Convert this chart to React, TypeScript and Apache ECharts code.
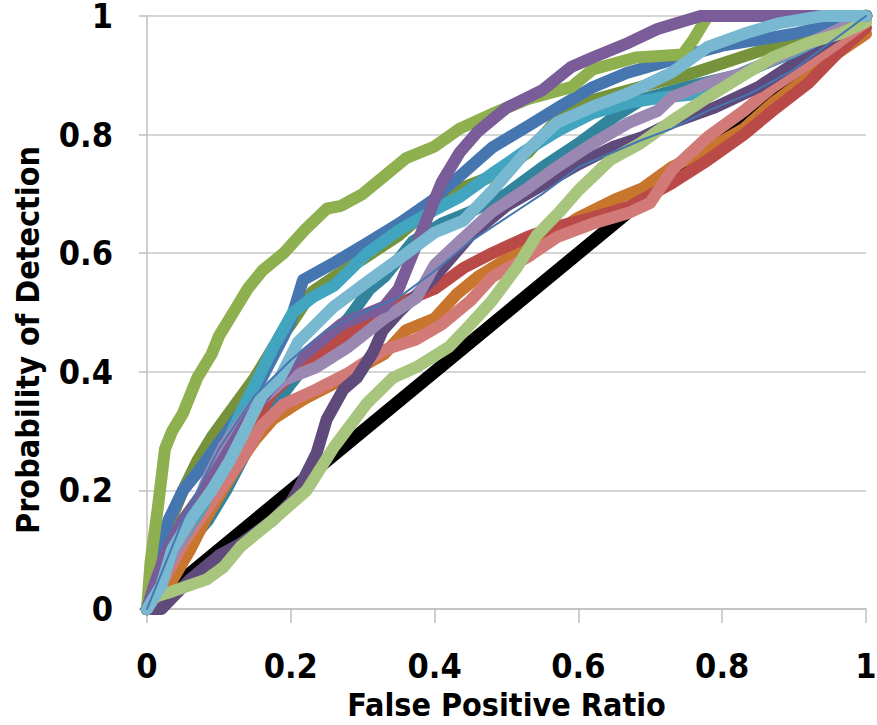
import React, { useEffect, useRef } from "react";
import * as echarts from "echarts";

// Tick labels
const xTicks = ["0", "0.2", "0.4", "0.6", "0.8", "1"];
const yTicks = ["0", "0.2", "0.4", "0.6", "0.8", "1"];

// ROC curves: [false positive ratio, probability of detection]
const chance = [[0, 0], [1, 1]];
const darkTeal = [[0,0],[0.02,0.04],[0.05,0.1],[0.085,0.15],[0.11,0.2],[0.14,0.27],[0.17,0.33],[0.2,0.38],[0.24,0.44],[0.28,0.49],[0.31,0.54],[0.33,0.56],[0.37,0.62],[0.41,0.65],[0.45,0.67],[0.5,0.7],[0.55,0.745],[0.6,0.785],[0.65,0.83],[0.69,0.86],[0.75,0.88],[0.82,0.9],[0.9,0.94],[1,1]];
const orange = [[0,0],[0.02,0.03],[0.036,0.05],[0.06,0.1],[0.083,0.155],[0.105,0.2],[0.13,0.25],[0.15,0.285],[0.175,0.32],[0.2,0.34],[0.22,0.355],[0.26,0.38],[0.3,0.41],[0.33,0.43],[0.36,0.47],[0.4,0.49],[0.43,0.53],[0.46,0.56],[0.5,0.59],[0.55,0.62],[0.6,0.66],[0.65,0.69],[0.69,0.71],[0.73,0.745],[0.78,0.775],[0.83,0.81],[0.87,0.853],[0.92,0.897],[0.96,0.937],[1,0.97]];
const red = [[0,0],[0.02,0.05],[0.05,0.12],[0.1,0.22],[0.14,0.3],[0.175,0.365],[0.21,0.405],[0.26,0.445],[0.31,0.49],[0.35,0.515],[0.4,0.54],[0.44,0.575],[0.48,0.6],[0.53,0.628],[0.57,0.645],[0.62,0.66],[0.67,0.678],[0.73,0.718],[0.78,0.757],[0.83,0.8],[0.87,0.84],[0.92,0.887],[0.96,0.937],[1,0.98]];
const pink = [[0,0],[0.02,0.04],[0.05,0.11],[0.09,0.18],[0.13,0.25],[0.16,0.31],[0.19,0.345],[0.235,0.37],[0.28,0.398],[0.33,0.437],[0.375,0.455],[0.41,0.48],[0.45,0.52],[0.48,0.56],[0.53,0.594],[0.57,0.627],[0.62,0.65],[0.67,0.668],[0.7,0.685],[0.73,0.74],[0.78,0.796],[0.83,0.84],[0.87,0.88],[0.92,0.92],[0.96,0.954],[1,0.99]];
const darkPurple = [[0,0],[0.02,0],[0.036,0.02],[0.06,0.05],[0.1,0.09],[0.13,0.11],[0.175,0.15],[0.2,0.18],[0.21,0.2],[0.236,0.263],[0.25,0.32],[0.273,0.37],[0.292,0.39],[0.314,0.432],[0.328,0.47],[0.35,0.5],[0.4,0.56],[0.45,0.63],[0.5,0.68],[0.55,0.715],[0.6,0.75],[0.65,0.78],[0.69,0.796],[0.73,0.82],[0.79,0.846],[0.85,0.88],[0.9,0.92],[0.95,0.96],[1,1]];
const olive = [[0,0],[0.01,0.06],[0.03,0.14],[0.05,0.2],[0.07,0.25],[0.09,0.29],[0.12,0.34],[0.15,0.39],[0.175,0.44],[0.2,0.48],[0.23,0.535],[0.26,0.56],[0.3,0.59],[0.35,0.63],[0.417,0.7],[0.48,0.73],[0.53,0.77],[0.574,0.83],[0.625,0.86],[0.7,0.885],[0.75,0.9],[0.85,0.94],[1,1]];
const blue = [[0,0],[0.01,0.07],[0.03,0.15],[0.05,0.2],[0.07,0.23],[0.1,0.28],[0.13,0.33],[0.16,0.39],[0.19,0.46],[0.2,0.487],[0.217,0.555],[0.259,0.583],[0.306,0.617],[0.352,0.651],[0.398,0.69],[0.435,0.73],[0.481,0.779],[0.528,0.813],[0.574,0.847],[0.62,0.88],[0.667,0.904],[0.713,0.92],[0.755,0.935],[0.8,0.95],[0.9,0.97],[1,1]];
const teal = [[0,0],[0.02,0.06],[0.05,0.12],[0.08,0.18],[0.1,0.25],[0.13,0.33],[0.155,0.39],[0.175,0.44],[0.203,0.5],[0.231,0.526],[0.26,0.545],[0.306,0.6],[0.352,0.64],[0.4,0.673],[0.435,0.695],[0.481,0.735],[0.528,0.774],[0.574,0.808],[0.62,0.836],[0.667,0.853],[0.713,0.862],[0.78,0.87],[0.84,0.91],[0.9,0.94],[1,1]];
const lilac = [[0,0],[0.01,0.03],[0.028,0.07],[0.06,0.145],[0.083,0.217],[0.106,0.273],[0.143,0.335],[0.19,0.386],[0.236,0.408],[0.28,0.442],[0.33,0.49],[0.375,0.525],[0.4,0.58],[0.435,0.62],[0.48,0.67],[0.53,0.71],[0.57,0.745],[0.62,0.785],[0.67,0.82],[0.71,0.84],[0.73,0.863],[0.78,0.887],[0.83,0.904],[0.87,0.926],[0.92,0.954],[0.96,0.976],[1,1]];
const lightGreen = [[0,0],[0.01,0.02],[0.036,0.03],[0.083,0.05],[0.106,0.07],[0.13,0.105],[0.175,0.15],[0.222,0.2],[0.26,0.273],[0.306,0.347],[0.342,0.39],[0.375,0.408],[0.42,0.442],[0.45,0.48],[0.48,0.52],[0.515,0.577],[0.542,0.63],[0.574,0.67],[0.6,0.706],[0.644,0.757],[0.686,0.785],[0.732,0.825],[0.78,0.863],[0.825,0.897],[0.87,0.93],[0.92,0.955],[0.964,0.97],[1,0.99]];
const green = [[0,0],[0.005,0.08],[0.015,0.17],[0.025,0.27],[0.035,0.3],[0.05,0.33],[0.07,0.39],[0.09,0.43],[0.1,0.46],[0.12,0.5],[0.14,0.54],[0.16,0.57],[0.19,0.6],[0.22,0.64],[0.25,0.675],[0.27,0.68],[0.3,0.7],[0.33,0.73],[0.36,0.76],[0.4,0.78],[0.435,0.81],[0.48,0.835],[0.53,0.86],[0.59,0.88],[0.62,0.91],[0.68,0.93],[0.745,0.935],[0.76,0.96],[0.78,1],[1,1]];
const purple = [[0,0],[0.01,0.04],[0.025,0.09],[0.05,0.15],[0.08,0.2],[0.11,0.26],[0.14,0.32],[0.17,0.37],[0.2,0.41],[0.23,0.44],[0.27,0.48],[0.31,0.5],[0.33,0.51],[0.35,0.54],[0.37,0.6],[0.39,0.66],[0.41,0.72],[0.435,0.77],[0.46,0.805],[0.5,0.845],[0.55,0.875],[0.59,0.914],[0.62,0.93],[0.67,0.955],[0.71,0.978],[0.77,1],[1,1]];
const lightBlue = [[0,0],[0.01,0.02],[0.02,0.04],[0.035,0.1],[0.06,0.15],[0.09,0.2],[0.115,0.25],[0.14,0.31],[0.16,0.36],[0.185,0.39],[0.21,0.45],[0.26,0.51],[0.31,0.555],[0.35,0.59],[0.4,0.635],[0.44,0.655],[0.48,0.705],[0.53,0.775],[0.57,0.82],[0.62,0.847],[0.67,0.87],[0.73,0.905],[0.78,0.948],[0.83,0.97],[0.88,0.988],[0.94,1],[1,1]];
const thinBlue = [[0,0],[0.05,0.15],[0.1,0.27],[0.15,0.36],[0.2,0.42],[0.25,0.47],[0.3,0.5],[0.35,0.525],[0.4,0.57],[0.45,0.62],[0.5,0.66],[0.55,0.7],[0.6,0.745],[0.686,0.79],[0.73,0.81],[0.78,0.84],[0.84,0.87],[0.9,0.91],[1,1]];

const FONT = "'DejaVu Sans Condensed', 'DejaVu Sans', sans-serif";

export default function App() {
  const ref = useRef<HTMLDivElement>(null);
  useEffect(() => {
    if (!ref.current) return;
    const chart = echarts.init(ref.current, null, { renderer: "svg" });
    const line = (name: string, data: number[][], color: string, width: number) => ({
      name,
      type: "line",
      data,
      symbol: "none",
      showSymbol: false,
      lineStyle: { color, width, cap: "round", join: "round" },
      emphasis: { disabled: true },
    });
    const W = 12;
    const series = [
      line("Chance", chance, "#000000", 13),
      line("S1", darkTeal, "#31849B", W),
      line("S2", orange, "#C8762E", W),
      line("S3", red, "#B94A47", W),
      line("S4", pink, "#D27A78", W),
      line("S5", darkPurple, "#604A7B", W),
      line("S6", olive, "#76933C", W),
      line("S7", blue, "#4676B0", W),
      line("S8", teal, "#42A5BF", W),
      line("S9", lilac, "#9A88B3", W),
      line("S10", lightGreen, "#A7C57C", W),
      line("S11", green, "#8EB04F", W),
      line("S12", purple, "#7A5C98", W),
      line("S13", lightBlue, "#78B8D0", W),
      line("S14", thinBlue, "#4676B0", 2),
    ];
    chart.setOption({
      animation: false,
      backgroundColor: "#ffffff",
      grid: { left: 147, top: 16, width: 719, height: 593, outerBoundsMode: "none", containLabel: false },
      xAxis: {
        type: "value",
        min: 0,
        max: 1,
        interval: 0.2,
        name: "False Positive Ratio",
        nameLocation: "middle",
        nameGap: 80,
        nameTextStyle: { fontFamily: FONT, fontWeight: "bold", fontSize: 32, color: "#000" },
        axisLine: { show: true, lineStyle: { color: "#BFBFBF", width: 1.5 } },
        axisTick: { show: true, length: 14, lineStyle: { color: "#BFBFBF", width: 1.5 } },
        splitLine: { show: false },
        axisLabel: {
          margin: 40,
          fontFamily: FONT,
          fontWeight: "bold",
          fontSize: 34,
          color: "#000",
          formatter: (v: number) => xTicks[Math.round(v * 5)] ?? "",
        },
      },
      yAxis: {
        type: "value",
        min: 0,
        max: 1,
        interval: 0.2,
        axisLine: { show: true, lineStyle: { color: "#BFBFBF", width: 1.5 } },
        axisTick: { show: true, length: 8, lineStyle: { color: "#BFBFBF", width: 1.5 } },
        splitLine: { show: true, lineStyle: { color: "#C8C8C8", width: 1.5 } },
        axisLabel: {
          margin: 34,
          fontFamily: FONT,
          fontWeight: "bold",
          fontSize: 34,
          lineHeight: 28,
          color: "#000",
          formatter: (v: number) => yTicks[Math.round(v * 5)] ?? "",
        },
      },
      graphic: [
        {
          type: "text",
          x: 28,
          y: 340,
          rotation: Math.PI / 2,
          style: {
            text: "Probability of Detection",
            fontFamily: FONT,
            fontWeight: "bold",
            fontSize: 32,
            fill: "#000",
            align: "center",
            verticalAlign: "middle",
          },
        },
      ],
      series,
    });
    return () => chart.dispose();
  }, []);
  return (
    <div
      ref={ref}
      style={{ position: "fixed", left: 0, top: 0, width: 877, height: 725, background: "#fff" }}
    />
  );
}
